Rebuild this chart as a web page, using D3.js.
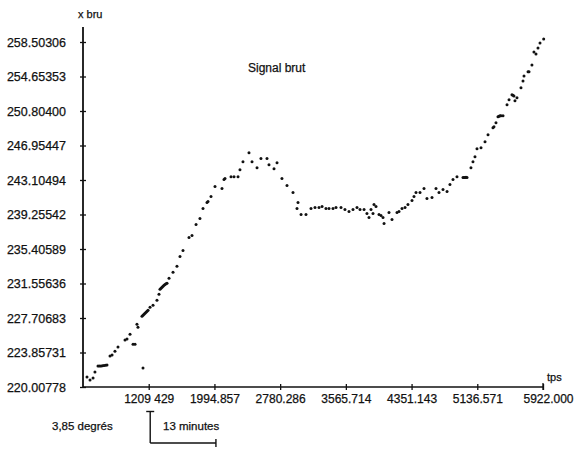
<!DOCTYPE html>
<html>
<head>
<meta charset="utf-8">
<script src="https://cdn.jsdelivr.net/npm/d3@7"></script>
<style>
body { margin: 0; background: #fff; }
text { font-family: "Liberation Sans", Arial, sans-serif; fill: #111; stroke: #111; stroke-width: 0.25px; }
</style>
</head>
<body>
<svg id="chart" width="580" height="450"></svg>
<script>
// time (tps) and raw signal (x bru)
var tps = [
    472, 508, 544, 567, 603, 621, 639, 657, 675, 693,
    711, 747, 771, 806, 842, 926, 950, 986, 1022, 1046,
    1069, 1081, 1129, 1141, 1141, 1153, 1165, 1177, 1189, 1201,
    1225, 1261, 1308, 1332, 1344, 1356, 1368, 1380, 1392, 1404,
    1416, 1428, 1452, 1500, 1547, 1583, 1619, 1691, 1727, 1775,
    1822, 1858, 1906, 1918, 1954, 2002, 2085, 2109, 2121, 2193,
    2229, 2277, 2300, 2336, 2408, 2444, 2504, 2551, 2623, 2647,
    2707, 2743, 2802, 2862, 2934, 2982, 2994, 3030, 3089, 3149,
    3197, 3245, 3281, 3328, 3364, 3412, 3448, 3508, 3555, 3603,
    3651, 3699, 3735, 3783, 3818, 3842, 3866, 3890, 3902, 3926,
    3962, 3986, 4010, 4022, 4081, 4117, 4177, 4201, 4237, 4273,
    4308, 4356, 4380, 4404, 4452, 4500, 4535, 4595, 4643, 4679,
    4727, 4775, 4810, 4846, 4894, 4966, 4978, 4990, 5002, 5014,
    5061, 5085, 5109, 5133, 5181, 5229, 5265, 5324, 5336, 5360,
    5384, 5396, 5408, 5420, 5444, 5492, 5516, 5551, 5563, 5575,
    5587, 5611, 5659, 5683, 5695, 5743, 5755, 5790, 5814, 5838,
    5862, 5886, 5930
];
var xbru = [
    221.12, 220.79, 221.01, 221.68, 222.34, 222.34, 222.34, 222.37, 222.40, 222.43,
    222.46, 223.46, 223.57, 224.01, 224.46, 225.24, 225.35, 225.90, 224.79, 224.79,
    227.02, 226.68, 227.91, 222.12, 228.02, 228.13, 228.24, 228.35, 228.46, 228.58,
    228.91, 229.13, 229.69, 230.36, 230.91, 231.02, 231.13, 231.25, 231.36, 231.45,
    231.52, 231.58, 232.14, 232.80, 233.47, 234.58, 235.25, 236.70, 236.92, 238.14,
    238.81, 239.92, 240.59, 240.70, 241.26, 242.37, 242.15, 243.15, 243.26, 243.48,
    243.48, 243.48, 244.26, 245.15, 246.15, 245.15, 244.48, 245.49, 245.49, 244.82,
    244.37, 245.04, 243.26, 242.48, 241.70, 239.92, 240.59, 239.26, 239.26, 239.92,
    240.03, 240.03, 240.15, 239.92, 239.92, 239.92, 240.03, 240.03, 239.81, 239.59,
    239.81, 240.03, 239.81, 239.81, 239.37, 238.92, 239.81, 239.37, 240.37, 240.15,
    239.26, 239.14, 238.92, 238.25, 239.48, 238.70, 239.48, 239.59, 239.92, 240.03,
    240.37, 240.81, 241.26, 241.70, 241.70, 242.15, 241.04, 241.15, 242.15, 241.70,
    242.04, 241.82, 242.59, 243.15, 243.48, 243.37, 243.37, 243.37, 243.40, 243.37,
    244.48, 245.15, 245.71, 246.60, 246.71, 247.38, 248.16, 248.94, 249.05, 249.49,
    250.16, 250.22, 250.27, 250.27, 250.27, 251.49, 252.05, 252.61, 252.55, 252.49,
    251.94, 252.27, 253.39, 254.16, 254.72, 255.17, 255.17, 255.94, 257.39, 257.17,
    257.84, 258.39, 258.84
];

var yTickValues = [220.00778, 223.85731, 227.70683, 231.55636, 235.40589, 239.25542,
    243.10494, 246.95447, 250.80400, 254.65353, 258.50306];
var yTickLabels = ["220.00778", "223.85731", "227.70683", "231.55636", "235.40589", "239.25542",
    "243.10494", "246.95447", "250.80400", "254.65353", "258.50306"];
var xTickValues = [1209.429, 1994.857, 2780.286, 3565.714, 4351.143, 5136.571, 5922.000];
var xTickLabels = ["1209 429", "1994.857", "2780.286", "3565.714", "4351.143", "5136.571", "5922.000"];

var x = d3.scaleLinear().domain([424, 5922]).range([83, 543]);
var y = d3.scaleLinear().domain([220.00778, 258.50306]).range([387, 42]);

var svg = d3.select("#chart");
var ink = "#111";

// axis lines
svg.append("line")
    .attr("x1", x(424)).attr("x2", x(424))
    .attr("y1", y(220.00778)).attr("y2", y(258.50306) - 15)
    .attr("stroke", ink).attr("stroke-width", 1.8);
svg.append("line")
    .attr("x1", x(424)).attr("x2", x(5922))
    .attr("y1", y(220.00778)).attr("y2", y(220.00778))
    .attr("stroke", ink).attr("stroke-width", 1.5);

var yAxis = svg.append("g")
    .attr("transform", "translate(" + x(424) + ",0)")
    .call(d3.axisLeft(y).tickValues(yTickValues)
        .tickFormat(function(d, i) { return yTickLabels[i]; })
        .tickSize(0).tickPadding(17));
yAxis.select(".domain").remove();
yAxis.selectAll(".tick line").remove();
yAxis.selectAll(".tick").append("line")
    .attr("x1", -3).attr("x2", 3)
    .attr("stroke", ink).attr("stroke-width", 1.3);
yAxis.selectAll("text")
    .attr("font-family", "Liberation Sans, Arial, sans-serif")
    .attr("font-size", 12.5).attr("fill", ink);

var xAxis = svg.append("g")
    .attr("transform", "translate(0," + y(220.00778) + ")")
    .call(d3.axisBottom(x).tickValues(xTickValues)
        .tickFormat(function(d, i) { return xTickLabels[i]; })
        .tickSize(0).tickPadding(7));
xAxis.select(".domain").remove();
xAxis.selectAll(".tick line").remove();
xAxis.selectAll(".tick").append("line")
    .attr("y1", -3).attr("y2", 3)
    .attr("stroke", ink).attr("stroke-width", 1.3);
xAxis.selectAll("text")
    .attr("font-family", "Liberation Sans, Arial, sans-serif")
    .attr("font-size", 12).attr("fill", ink)
    .attr("dx", function(d, i) { return i === xTickLabels.length - 1 ? 5 : 0; });
// small end mark at the tip of the time axis
svg.append("line")
    .attr("x1", x(5922)).attr("x2", x(5922))
    .attr("y1", y(220.00778) - 4).attr("y2", y(220.00778) + 3)
    .attr("stroke", ink).attr("stroke-width", 1.3);

// axis titles
svg.append("text").attr("x", 78).attr("y", 18)
    .attr("font-size", 11).text("x bru");
svg.append("text").attr("x", 547).attr("y", 381)
    .attr("font-size", 11).text("tps");
svg.append("text").attr("x", 248).attr("y", 72)
    .attr("font-size", 12).text("Signal brut");

// data points
svg.append("g").selectAll("circle")
    .data(tps)
    .enter().append("circle")
    .attr("cx", function(d) { return x(d); })
    .attr("cy", function(d, i) { return y(xbru[i]); })
    .attr("r", 1.5)
    .attr("fill", ink);

// scale bar: one y step (3,85 degres) and one x step (13 minutes)
var bx = x(xTickValues[0]) + 1.5;
var by = 443;
var yStep = y(yTickValues[0]) - y(yTickValues[1]);
var xStep = x(xTickValues[1]) - x(xTickValues[0]);
var bar = svg.append("g").attr("stroke", ink).attr("stroke-width", 1.4);
bar.append("line").attr("x1", bx).attr("x2", bx).attr("y1", by - yStep + 3).attr("y2", by);
bar.append("line").attr("x1", bx - 4).attr("x2", bx + 4).attr("y1", by - yStep + 3).attr("y2", by - yStep + 3);
bar.append("line").attr("x1", bx).attr("x2", bx + xStep).attr("y1", by).attr("y2", by);
bar.append("line").attr("x1", bx + xStep).attr("x2", bx + xStep).attr("y1", by - 4).attr("y2", by + 4);

svg.append("text").attr("x", 52).attr("y", 430)
    .attr("font-size", 11.5).text("3,85 degrés");
svg.append("text").attr("x", 163).attr("y", 430)
    .attr("font-size", 11.5).text("13 minutes");
</script>
</body>
</html>
